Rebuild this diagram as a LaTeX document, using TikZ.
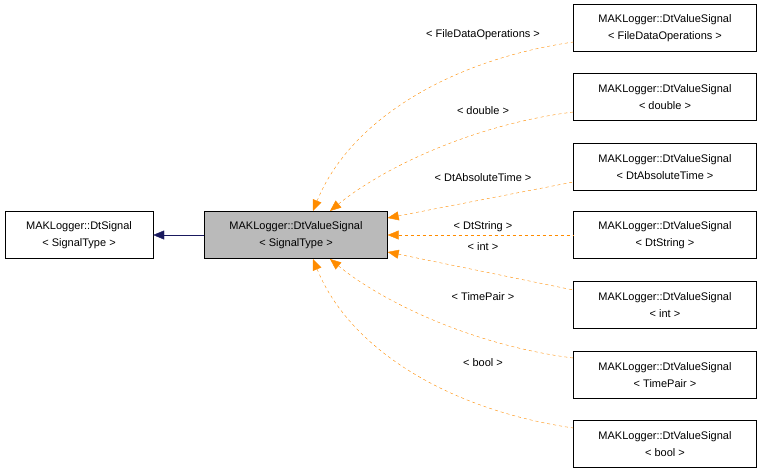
\documentclass[tikz,border=0pt]{standalone}
\usepackage{fontspec}
\setmainfont{Liberation Sans}
\usetikzlibrary{arrows.meta}
\begin{document}
\begin{tikzpicture}[x=1pt,y=-1pt,
  box/.style={draw,minimum width=183pt,minimum height=47pt,align=center,inner sep=0pt,font=\fontsize{11}{17}\selectfont},
  inh/.style={draw=orange!90!yellow,dashed,{Triangle[width=9pt,length=11pt,fill=orange!90!yellow]}-},
  lab/.style={font=\fontsize{11}{13}\selectfont}]
\useasboundingbox (0,0) rectangle (763,472);
\node[box,minimum width=148pt] (base) at (79,235) {MAKLogger::DtSignal\\< SignalType >};
\node[box,fill=black!27] (c) at (296,235) {MAKLogger::DtValueSignal\\< SignalType >};
\foreach \n/\y/\t in {1/28/FileDataOperations,2/97/double,3/167/DtAbsoluteTime,4/235/DtString,5/305/int,6/375/TimePair,7/444/bool}
  \node[box] (r\n) at (665,\y) {MAKLogger::DtValueSignal\\< \t\ >};
\draw[draw=blue!30!black!90,{Triangle[width=9pt,length=11pt,fill=blue!30!black!90]}-] (base.east) -- (c.west);
\draw[inh] (313,211) .. controls (350,120) and (450,60) .. (r1.west|-0,42);
\draw[inh] (330,211) .. controls (380,170) and (470,125) .. (r2.west|-0,112);
\draw[inh] (c.east|-0,218) -- (r3.west|-0,182);
\draw[inh] (c.east) -- (r4.west);
\draw[inh] (c.east|-0,252) -- (r5.west|-0,290);
\draw[inh] (330,259) .. controls (380,300) and (470,345) .. (r6.west|-0,358);
\draw[inh] (313,259) .. controls (350,350) and (450,410) .. (r7.west|-0,428);
\node[lab] at (483,35) {< FileDataOperations >};
\node[lab] at (483,111) {< double >};
\node[lab] at (483,178) {< DtAbsoluteTime >};
\node[lab] at (483,227) {< DtString >};
\node[lab] at (483,247) {< int >};
\node[lab] at (483,297) {< TimePair >};
\node[lab] at (483,363) {< bool >};
\end{tikzpicture}
\end{document}
